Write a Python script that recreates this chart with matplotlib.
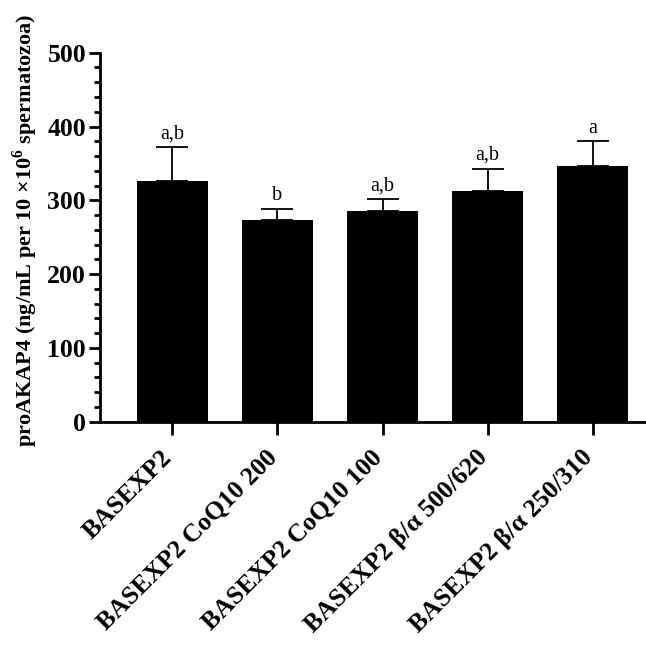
import numpy as np
import matplotlib
matplotlib.use('Agg')
import matplotlib.pyplot as plt
import matplotlib.transforms as mtransforms
from matplotlib.ticker import MultipleLocator

plt.rcParams['font.family'] = ['Liberation Serif', 'DejaVu Serif']
plt.rcParams['mathtext.fontset'] = 'custom'
plt.rcParams['mathtext.rm'] = 'Liberation Serif'
plt.rcParams['mathtext.bf'] = 'Liberation Serif:bold'

groups = ['BASEXP2', 'BASEXP2 CoQ10 200', 'BASEXP2 CoQ10 100',
          'BASEXP2 β/α 500/620', 'BASEXP2 β/α 250/310']
means = [326, 273, 286, 312, 346]
sem = [46, 15, 16, 31, 34]
letters = ['a,b', 'b', 'a,b', 'a,b', 'a']

fig = plt.figure(figsize=(6.46, 6.47), dpi=100)
ax = fig.add_axes([0.1548, 0.3482, 0.86, 0.5703])

x = np.arange(len(groups))
ax.bar(x, means, width=0.67, color='black', zorder=2)
ax.errorbar(x, means, yerr=[np.zeros(len(sem)), sem], fmt='none',
            ecolor='black', elinewidth=1.3, capsize=11.5, capthick=1.3, zorder=1)

for xi, m, s, t in zip(x, means, sem, letters):
    ax.text(xi, m + s + 5, t, ha='center', va='bottom', fontsize=14.5)

ax.set_xlim(-0.69, 4.6)
ax.set_ylim(0, 500)
ax.yaxis.set_major_locator(MultipleLocator(100))
ax.yaxis.set_minor_locator(MultipleLocator(20))

ax.spines['top'].set_visible(False)
ax.spines['right'].set_visible(False)
ax.spines['left'].set_linewidth(2)
ax.spines['bottom'].set_linewidth(2)

ax.tick_params(axis='y', which='major', length=8, width=2, pad=2,
               labelsize=18.5)
ax.tick_params(axis='y', which='minor', length=4.5, width=2)
ax.tick_params(axis='x', which='major', length=9, width=2, pad=4)
for lab in ax.get_yticklabels():
    lab.set_fontweight('bold')

ax.set_xticks(x)
ax.set_xticklabels(groups, rotation=45, ha='right', rotation_mode='anchor',
                   fontsize=18.5, fontweight='bold')
# nudge the slanted group names down and to the left
shift = mtransforms.ScaledTranslation(-12 / 100, -6 / 100, fig.dpi_scale_trans)
for lab in ax.get_xticklabels():
    lab.set_transform(lab.get_transform() + shift)

ax.set_ylabel(r'proAKAP4 (ng/mL per 10 ×10$^{\mathbf{6}}$ spermatozoa)',
              fontsize=16, fontweight='bold')
ax.yaxis.set_label_coords(-0.108, 0.52)

fig.savefig('out.png', dpi=100)
